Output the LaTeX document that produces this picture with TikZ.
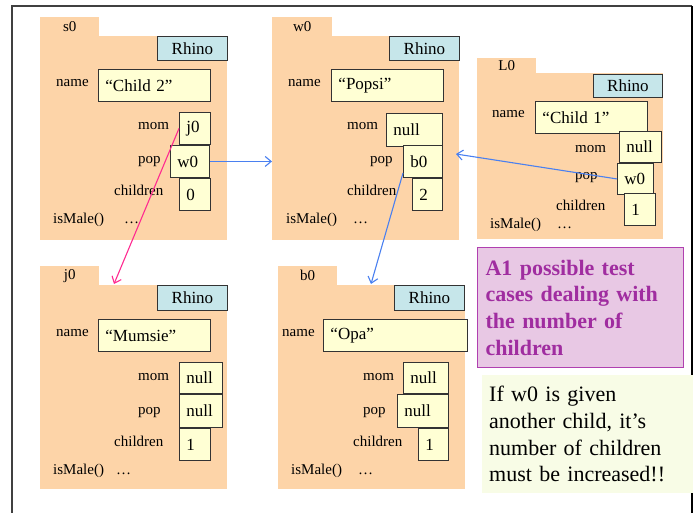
\documentclass[tikz,border=0pt]{standalone}
\usepackage{fontspec}
\setmainfont{Liberation Serif}
\usetikzlibrary{arrows.meta}
\definecolor{peach}{HTML}{FDD4A8}
\definecolor{valfill}{HTML}{FFFFD4}
\definecolor{clsfill}{HTML}{C6E6EA}
\definecolor{boxline}{HTML}{333333}
\definecolor{purfill}{HTML}{E8C8E4}
\definecolor{purline}{HTML}{B040B0}
\definecolor{purtext}{HTML}{A02DA0}
\definecolor{notefill}{HTML}{F8FCE6}
\definecolor{arrblue}{HTML}{4A80F0}
\definecolor{arrpink}{HTML}{FF2A90}
\tikzset{
  body/.style={fill=peach, draw=none, inner sep=0pt, anchor=north west},
  tabbox/.style={fill=peach, draw=none, inner sep=0pt, anchor=north west, font=\fontsize{15}{18}\selectfont},
  clsbox/.style={fill=clsfill, draw=boxline, line width=0.9pt, inner sep=0pt, anchor=north west, font=\fontsize{17}{20}\selectfont},
  valbox/.style={fill=valfill, draw=boxline, line width=0.9pt, inner xsep=7pt, inner ysep=0pt, anchor=north west, align=left, font=\fontsize{17}{20}\selectfont},
  lbl/.style={inner sep=0pt, anchor=base west, font=\fontsize{15}{18}\selectfont},
  blueref/.style={draw=arrblue, line width=1.1pt, -{Straight Barb[length=6pt,width=10pt]}},
  pinkref/.style={draw=arrpink, line width=1.1pt, -{Straight Barb[length=6pt,width=10pt]}}
}
\newcommand\robj[8]{% name, label, tabL, tabTop, tabR, bodyTop, right, bottom
  \pgfmathsetmacro\rw{#5-#3}\pgfmathsetmacro\rh{#6-#4}
  \node[tabbox, minimum width=\rw pt, minimum height=\rh pt] (#1tab) at (#3,#4) {#2};
  \pgfmathsetmacro\rw{#7-#3}\pgfmathsetmacro\rh{#8-#6}
  \node[body, minimum width=\rw pt, minimum height=\rh pt] (#1obj) at (#3,#6) {};
}
\newcommand\clsnode[5]{% name, x1, y1, x2, y2
  \pgfmathsetmacro\rw{#4-#2}\pgfmathsetmacro\rh{#5-#3}
  \node[clsbox, minimum width=\rw pt, minimum height=\rh pt] (#1) at (#2,#3) {Rhino};
}
\newcommand\valnode[6]{% name, x1, y1, x2, y2, text
  \pgfmathsetmacro\rw{#4-#2-14}\pgfmathsetmacro\rh{#5-#3}
  \node[valbox, text width=\rw pt, minimum height=\rh pt] (#1) at (#2,#3) {#6};
}
\begin{document}
\begin{tikzpicture}[x=1pt,y=-1pt]
\useasboundingbox (0,0) rectangle (694,513);
% frame
\draw[color=black!75, line width=1.2pt] (12,513) -- (12,6) -- (692,6);
\draw[color=black, line width=1.2pt] (692,6) -- (692,513);

% ---------- s0 ----------
\robj{s0}{s0}{40}{17}{99}{36}{227}{240}
\clsnode{s0cls}{157}{36}{227}{60}
\node[lbl] (s0namel) at (56,87) {name};
\valnode{s0name}{98}{69}{210}{101}{“Child 2”}
\node[lbl] (s0moml) at (138,130) {mom};
\valnode{s0mom}{179}{112}{210}{144}{j0}
\node[lbl] (s0popl) at (138,164) {pop};
\valnode{s0pop}{170}{145}{209}{177}{w0}
\node[lbl] (s0chl) at (114,196) {children};
\valnode{s0ch}{179}{178}{210}{210}{0}
\node[lbl] (s0ism) at (53,224) {isMale()};
\node[lbl] (s0dots) at (124,224) {…};

% ---------- w0 ----------
\robj{w0}{w0}{272}{17}{332}{36}{459}{240}
\clsnode{w0cls}{389}{36}{459}{60}
\node[lbl] (w0namel) at (288,87) {name};
\valnode{w0name}{331}{69}{443}{101}{“Popsi”}
\node[lbl] (w0moml) at (347,130) {mom};
\valnode{w0mom}{386}{113}{442}{146}{null}
\node[lbl] (w0popl) at (370,164) {pop};
\valnode{w0pop}{403}{145}{442}{177}{b0}
\node[lbl] (w0chl) at (347,196) {children};
\valnode{w0ch}{412}{178}{442}{210}{2}
\node[lbl] (w0ism) at (286,224) {isMale()};
\node[lbl] (w0dots) at (353,224) {…};

% ---------- L0 ----------
\robj{L0}{L0}{477}{58}{536}{73}{663}{239}
\clsnode{L0cls}{593}{74}{662}{97}
\node[lbl] (L0namel) at (492,118) {name};
\valnode{L0name}{535}{101}{647}{133}{“Child 1”}
\node[lbl] (L0moml) at (575,153) {mom};
\valnode{L0mom}{619}{131}{661}{162}{null}
\node[lbl] (L0popl) at (575,180) {pop};
\valnode{L0pop}{617}{163}{653}{194}{w0}
\node[lbl] (L0chl) at (556,211) {children};
\valnode{L0ch}{624}{193}{655}{225}{1}
\node[lbl] (L0ism) at (490,229) {isMale()};
\node[lbl] (L0dots) at (557,229) {…};

% ---------- j0 ----------
\robj{j0}{j0}{40}{266}{99}{285}{227}{489}
\clsnode{j0cls}{157}{285}{227}{310}
\node[lbl] (j0namel) at (56,337) {name};
\valnode{j0name}{98}{319}{210}{351}{“Mumsie”}
\node[lbl] (j0moml) at (138,380) {mom};
\valnode{j0mom}{179}{362}{222}{393}{null}
\node[lbl] (j0popl) at (138,414) {pop};
\valnode{j0pop}{179}{394}{222}{427}{null}
\node[lbl] (j0chl) at (114,446) {children};
\valnode{j0ch}{179}{428}{210}{460}{1}
\node[lbl] (j0ism) at (53,474) {isMale()};
\node[lbl] (j0dots) at (116,474) {…};

% ---------- b0 ----------
\robj{b0}{b0}{278}{266}{337}{285}{465}{489}
\clsnode{b0cls}{394}{285}{464}{310}
\node[lbl] (b0namel) at (282,337) {name};
\valnode{b0name}{323}{319}{467}{351}{“Opa”}
\node[lbl] (b0moml) at (363,380) {mom};
\valnode{b0mom}{403}{362}{448}{393}{null}
\node[lbl] (b0popl) at (363,414) {pop};
\valnode{b0pop}{397}{394}{448}{427}{null}
\node[lbl] (b0chl) at (353,446) {children};
\valnode{b0ch}{418}{428}{448}{460}{1}
\node[lbl] (b0ism) at (291,474) {isMale()};
\node[lbl] (b0dots) at (358,474) {…};

% ---------- notes ----------
\node[fill=purfill, draw=purline, line width=1.2pt, anchor=north west,
      minimum width=206pt, minimum height=120pt, inner xsep=8pt, inner ysep=0pt,
      text width=190pt, align=left, text=purtext,
      font=\fontsize{22}{26.7}\selectfont\bfseries] (a1note) at (477,247)
  {A1 possible test\\cases dealing with\\the number of\\children};
\node[fill=notefill, draw=none, anchor=north west,
      minimum width=211pt, minimum height=118pt, inner xsep=7pt, inner ysep=0pt,
      text width=197pt, align=left,
      font=\fontsize{22}{26.7}\selectfont] (w0note) at (482,375)
  {If w0 is given\\another child, it’s\\number of children\\must be increased!!};

% ---------- references ----------
\coordinate (j0in) at (114,284);
\coordinate (b0in) at (371,284);
\coordinate (w0in) at (456,154);
\draw[pinkref] (s0mom.west) -- (j0in);
\draw[blueref] (s0pop.east) -- (s0pop.east -| w0obj.west);
\draw[blueref] (w0pop.210) -- (b0in);
\draw[blueref] (L0pop.west) -- (w0in);
\end{tikzpicture}
\end{document}
